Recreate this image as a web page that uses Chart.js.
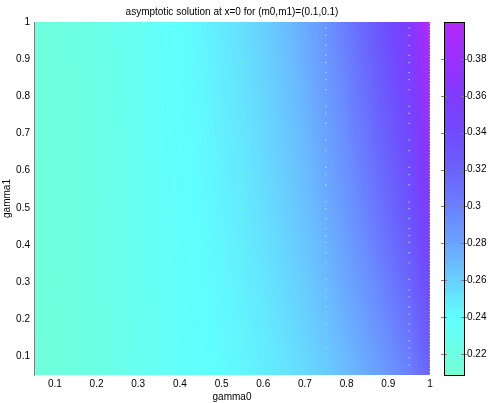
<!DOCTYPE html>
<html>
<head>
<meta charset="utf-8">
<script src="https://cdn.jsdelivr.net/npm/chart.js@4.4.0/dist/chart.umd.min.js"></script>
<style>
  body { margin: 0; background: #fff; }
  canvas { display: block; }
</style>
</head>
<body>
<canvas id="heat" width="490" height="403"></canvas>
<script>
// grid of the computed solution
const gamma0 = [0.05, 0.1, 0.15, 0.2, 0.25, 0.3, 0.35, 0.4, 0.45, 0.5,
                0.55, 0.6, 0.65, 0.7, 0.75, 0.8, 0.85, 0.9, 0.95, 1]
const gamma1 = [0.05, 0.5, 1]
const solGamma1Low = [0.214, 0.216, 0.218, 0.221, 0.224, 0.228, 0.232, 0.235, 0.238, 0.241,
                      0.244, 0.247, 0.251, 0.256, 0.262, 0.269, 0.277, 0.287, 0.299, 0.318]
const solGamma1Mid = [0.215, 0.217, 0.219, 0.222, 0.226, 0.230, 0.234, 0.238, 0.241, 0.245,
                      0.249, 0.254, 0.260, 0.267, 0.276, 0.287, 0.300, 0.315, 0.333, 0.360]
const solGamma1High = [0.216, 0.218, 0.220, 0.223, 0.227, 0.231, 0.236, 0.240, 0.244, 0.249,
                       0.254, 0.260, 0.268, 0.277, 0.289, 0.303, 0.320, 0.339, 0.360, 0.398]
const solution = [solGamma1Low, solGamma1Mid, solGamma1High]

// small holes in the surface (gnuplot leaves them)
const gapColumns = [0.55, 0.75, 0.95]
const gapRows = [0.984, 0.964, 0.937, 0.910, 0.891, 0.864, 0.845, 0.818, 0.773, 0.754,
                 0.727, 0.682, 0.654, 0.609, 0.589, 0.562, 0.516, 0.498, 0.471, 0.444,
                 0.425, 0.407, 0.379, 0.352, 0.307, 0.279, 0.260, 0.233, 0.214, 0.187,
                 0.169, 0.142, 0.123, 0.096, 0.077]

const xTicks = [0.1, 0.2, 0.3, 0.4, 0.5, 0.6, 0.7, 0.8, 0.9, 1]
const yTicks = [0.1, 0.2, 0.3, 0.4, 0.5, 0.6, 0.7, 0.8, 0.9, 1]
const cbTicks = [0.22, 0.24, 0.26, 0.28, 0.3, 0.32, 0.34, 0.36, 0.38]
const cbMin = 0.2086
const cbMax = 0.4

// palette
const paletteValues = [0.2086, 0.22, 0.23, 0.24, 0.25, 0.26, 0.27, 0.28, 0.29, 0.30,
                       0.31, 0.32, 0.34, 0.36, 0.38, 0.40]
const paletteColors = [[114, 255, 212], [108, 255, 226], [102, 255, 242], [96, 255, 255],
                       [100, 232, 255], [104, 208, 255], [106, 186, 255], [106, 164, 255],
                       [106, 146, 255], [106, 128, 255], [106, 112, 255], [106, 98, 252],
                       [112, 74, 255], [128, 58, 255], [154, 48, 255], [180, 40, 250]]

const FONT = { family: 'Liberation Sans, Arial, sans-serif', size: 10 }

const colorFor = (v) => {
    if (v <= paletteValues[0]) return `rgb(${paletteColors[0].join(',')})`
    for (let i = 1; i < paletteValues.length; i++) {
        if (v <= paletteValues[i]) {
            const t = (v - paletteValues[i - 1]) / (paletteValues[i] - paletteValues[i - 1])
            const a = paletteColors[i - 1], b = paletteColors[i]
            const c = a.map((ch, k) => Math.round(ch + (b[k] - ch) * t))
            return `rgb(${c.join(',')})`
        }
    }
    return `rgb(${paletteColors[paletteColors.length - 1].join(',')})`
}

const findCell = (arr, v) => {
    let i = 0
    while (i < arr.length - 2 && v > arr[i + 1]) i++
    const t = Math.min(1, Math.max(0, (v - arr[i]) / (arr[i + 1] - arr[i])))
    return [i, t]
}

const valueAt = (g0, g1) => {
    const [i, tx] = findCell(gamma0, g0)
    const [j, ty] = findCell(gamma1, g1)
    const lo = solution[j][i] * (1 - tx) + solution[j][i + 1] * tx
    const hi = solution[j + 1][i] * (1 - tx) + solution[j + 1][i + 1] * tx
    return lo * (1 - ty) + hi * ty
}

const heatmap = {
    id: 'heatmap',
    beforeDraw(chart) {
        const { ctx, chartArea: area, scales } = chart
        const x = scales.x, y = scales.y, cb = scales.cb
        ctx.save()
        for (let px = Math.round(area.left); px < Math.round(area.right); px++) {
            const g0 = x.getValueForPixel(px + 0.5)
            for (let py = Math.round(area.top); py < Math.round(area.bottom); py++) {
                const g1 = y.getValueForPixel(py + 0.5)
                ctx.fillStyle = colorFor(valueAt(g0, g1))
                ctx.fillRect(px, py, 1, 1)
            }
        }

        // colour box
        const left = Math.round(cb.left + 14)
        const width = 20
        const top = Math.round(cb.getPixelForValue(cbMax))
        const bottom = Math.round(cb.getPixelForValue(cbMin))
        for (let py = top; py < bottom; py++) {
            ctx.fillStyle = colorFor(cb.getValueForPixel(py + 0.5))
            ctx.fillRect(left, py, width, 1)
        }
        ctx.strokeStyle = '#808080'
        ctx.lineWidth = 1
        cbTicks.forEach((v) => {
            const py = Math.round(cb.getPixelForValue(v)) + 0.5
            ctx.beginPath()
            ctx.moveTo(left - 3, py)
            ctx.lineTo(left + 3, py)
            ctx.moveTo(left + width - 3, py)
            ctx.lineTo(left + width + 3, py)
            ctx.stroke()
        })
        ctx.strokeStyle = '#000'
        ctx.strokeRect(left + 0.5, top + 0.5, width, bottom - top)
        ctx.restore()
    },
}

const fmt = (v) => String(Math.round(v * 100) / 100)
const noPad = (s) => {
    s.paddingTop = 0
    s.paddingBottom = 0
    s.paddingLeft = 0
    s.paddingRight = 0
}

const gapPoints = gapColumns.flatMap((g0) => gapRows.map((g1) => ({ x: g0, y: g1 })))

new Chart(document.getElementById('heat'), {
    type: 'scatter',
    data: {
        datasets: [
            {
                data: gapPoints,
                pointStyle: 'rect',
                pointRadius: 0.9,
                borderWidth: 0,
                backgroundColor: 'rgb(112, 255, 208)',
            },
            {
                type: 'line',
                data: [{ x: 1, y: 0.05 }, { x: 1, y: 1 }],
                borderColor: '#ffffff',
                borderWidth: 1,
                borderDash: [1, 2],
                pointRadius: 0,
            },
        ],
    },
    options: {
        responsive: false,
        animation: false,
        events: [],
        layout: { padding: 0, autoPadding: false },
        plugins: {
            legend: { display: false },
            tooltip: { enabled: false },
            title: {
                display: true,
                fullSize: false,
                text: 'asymptotic solution at x=0 for (m0,m1)=(0.1,0.1)',
                color: '#000',
                font: { ...FONT, weight: 'normal' },
                padding: { top: 6, bottom: 4 },
            },
        },
        scales: {
            x: {
                type: 'linear',
                min: 0.05,
                max: 1,
                grid: { display: false, drawTicks: false, tickLength: 0 },
                border: { display: false },
                afterBuildTicks: (s) => { s.ticks = xTicks.map((v) => ({ value: v })) },
                afterFit: (s) => { s.height = 28; noPad(s) },
                ticks: { color: '#000', font: FONT, padding: 3, maxRotation: 0, callback: fmt },
                title: { display: true, text: 'gamma0', color: '#000', font: FONT, padding: 0 },
            },
            y: {
                type: 'linear',
                min: 0.05,
                max: 1,
                grid: { display: false, drawTicks: false, tickLength: 0 },
                border: { display: true, color: '#808080', width: 1 },
                afterBuildTicks: (s) => { s.ticks = yTicks.map((v) => ({ value: v })) },
                afterFit: (s) => { s.width = 34; noPad(s) },
                ticks: { color: '#000', font: FONT, padding: 4, callback: fmt },
                title: { display: true, text: 'gamma1', color: '#000', font: FONT, padding: 1 },
            },
            cb: {
                type: 'linear',
                position: 'right',
                min: cbMin,
                max: cbMax,
                grid: { display: false, drawTicks: false, tickLength: 0 },
                border: { display: false },
                afterBuildTicks: (s) => { s.ticks = cbTicks.map((v) => ({ value: v })) },
                afterFit: (s) => { s.width = 60; noPad(s) },
                ticks: { color: '#000', font: FONT, padding: 37, callback: fmt },
            },
        },
    },
    plugins: [heatmap],
})
</script>
</body>
</html>
